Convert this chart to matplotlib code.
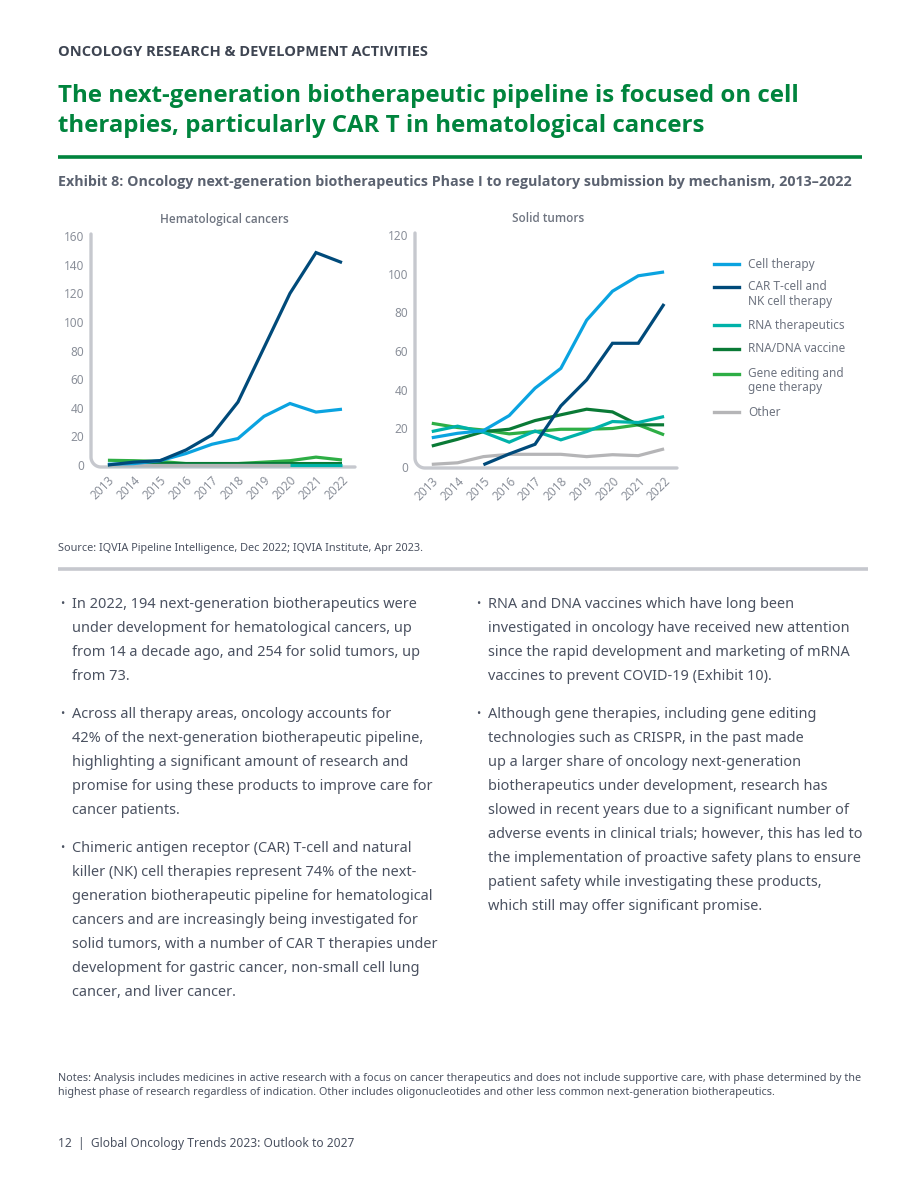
import numpy as np
import matplotlib.pyplot as plt
from matplotlib.lines import Line2D

W, H = 920, 1191
plt.rcParams["font.family"] = ["Noto Sans", "DejaVu Sans"]
BOLD = ["Open Sans", "DejaVu Sans"]

GREEN_T = "#00843d"; TXT = "#4b5261"; TXT_SEC = "#6e7480"; TICK = "#8b909a"
AXIS = "#c6c8ce"

# ── data ────────────────────────────────────────────────────────────────────
years = list(range(2013, 2023))
series = ["Cell therapy", "CAR T-cell and\nNK cell therapy", "RNA therapeutics",
          "RNA/DNA vaccine", "Gene editing and\ngene therapy", "Other"]
colors = ["#0aa3e0", "#004a7a", "#00b2a9", "#0a7a36", "#2eae45", "#b5b5b7"]

hem_cell   = [0.5, 1, 3, 8, 14.5, 18.5, 34, 43, 37, 39]
hem_cart   = [0, 2, 3, 10.5, 21, 44, 82, 120, 148.5, 141.5]
hem_rna    = [0, 0, 0, 0, 0, 0, 0, 0, 0, 0]
hem_vacc   = [0, 0, 1, 1, 1, 1, 1, 1, 1, 1]
hem_gene   = [3.3, 3, 2.5, 1, 1, 1, 2, 3, 5.5, 3.5]
hem_other  = [0, 0, 0, 0, 0, 0, 0, 0, np.nan, np.nan]

sol_cell   = [15, 17.3, 18.7, 26.5, 40.7, 51, 76, 91, 99, 101]
sol_cart   = [np.nan, np.nan, 1, 6.6, 11.6, 31.5, 45, 64, 64, 84.4]
sol_rna    = [18.2, 21, 17.9, 12.7, 18.5, 13.9, 18.2, 23.4, 22.9, 26]
sol_vacc   = [10.7, 14.2, 18.2, 19.4, 23.9, 26.9, 29.8, 28.4, 21.7, 21.7]
sol_gene   = [22.5, 20.3, 19, 17, 18.2, 19.4, 19.4, 19.8, 21.7, 16.5]
sol_other  = [1.2, 2, 5.2, 6.4, 6.4, 6.4, 5.2, 6.2, 5.7, 9.2]

hem = [hem_cell, hem_cart, hem_rna, hem_vacc, hem_gene, hem_other]
sol = [sol_cell, sol_cart, sol_rna, sol_vacc, sol_gene, sol_other]
draw_order = [4, 3, 2, 5, 0, 1]

fig = plt.figure(figsize=(W / 100, H / 100), dpi=100)
fig.patch.set_facecolor("white")
renderer = fig.canvas.get_renderer()

def fy(py):
    return 1 - py / H

def fx(px):
    return px / W

def txt(px, py, s, **kw):
    return fig.text(fx(px), fy(py), s, **kw)

def fit(t, width_px):
    # scale font so the line spans the same width as in the page
    w = t.get_window_extent(renderer).width
    t.set_fontsize(t.get_fontsize() * width_px / w)
    return t.get_fontsize()

def hline(x0, x1, py, color, lw):
    fig.add_artist(Line2D([fx(x0), fx(x1)], [fy(py), fy(py)], color=color,
                          lw=lw, solid_capstyle="butt"))

def make_axes(rect_px, data, ylim, yticks, title, title_x):
    x0, y0, x1, y1 = rect_px
    ax = fig.add_axes([fx(x0), fy(y1), fx(x1 - x0), (y1 - y0) / H])
    for i in draw_order:
        ax.plot(years, data[i], color=colors[i], lw=2.3, solid_capstyle="butt",
                solid_joinstyle="miter", clip_on=False)
    ax.set_xlim(2012.35, 2022.5)
    ax.set_ylim(*ylim)
    ax.set_yticks(yticks)
    ax.set_xticks(years)
    ax.set_xticklabels([str(y) for y in years], rotation=45, ha="right",
                       rotation_mode="anchor")
    ax.tick_params(length=0, colors=TICK, labelsize=8.5, pad=5)
    for sp in ax.spines.values():
        sp.set_visible(False)
    ax.patch.set_visible(False)
    # rounded L-shaped axis
    rx, ry = 10 / (x1 - x0), 10 / (y1 - y0)
    t = np.linspace(0, np.pi / 2, 20)
    xs = np.concatenate([[0], rx - rx * np.cos(t), [1]])
    ys = np.concatenate([[1], ry - ry * np.sin(t), [0]])
    ax.plot(xs, ys, color=AXIS, lw=2.4, transform=ax.transAxes, clip_on=False,
            solid_capstyle="round", zorder=0)
    txt(title_x, 219, title, ha="center", va="center", fontsize=8.5,
        color=TXT_SEC, fontweight="semibold", family=BOLD)
    return ax

make_axes((91, 234, 355, 467), hem, (-1.4, 161.5), range(0, 161, 20),
          "Hematological cancers", 224)
make_axes((415, 233, 677, 468), sol, (-0.7, 121.2), range(0, 121, 20),
          "Solid tumors", 548)

# legend
leg_y = [264, 294, 325, 349, 381, 412]
for i, name in enumerate(series):
    off = 0.006 if "\n" in name else 0
    fig.add_artist(Line2D([fx(714), fx(739)], [fy(leg_y[i]) + off] * 2,
                          color=colors[i], lw=2.4))
    txt(748, leg_y[i], name, ha="left", va="center", fontsize=8.5,
        color=TXT_SEC, linespacing=1.1)

# ── page text ──────────────────────────────────────────────────────────────
t = txt(58, 52, "ONCOLOGY RESEARCH & DEVELOPMENT ACTIVITIES", fontsize=9.5,
        fontweight="bold", color="#3e4552", va="center", family=BOLD)
fit(t, 372)
t1 = txt(58, 96, "The next-generation biotherapeutic pipeline is focused on cell",
         fontsize=17, fontweight="bold", color=GREEN_T, va="center", family=BOLD)
fs = fit(t1, 740)
txt(58, 126, "therapies, particularly CAR T in hematological cancers",
    fontsize=fs, fontweight="bold", color=GREEN_T, va="center", family=BOLD)
hline(58, 862, 157, GREEN_T, 2.6)
t = txt(58, 182, "Exhibit 8: Oncology next-generation biotherapeutics Phase I to "
        "regulatory submission by mechanism, 2013–2022", fontsize=8.8,
        fontweight="bold", color="#5b6270", va="center", family=BOLD)
fit(t, 795)
t = txt(58, 548, "Source: IQVIA Pipeline Intelligence, Dec 2022; IQVIA Institute, Apr 2023.",
        fontsize=7, color=TXT, va="center")
fit(t, 365)
hline(58, 868, 569, AXIS, 2.6)

left_paras = [
    ["In 2022, 194 next-generation biotherapeutics were",
     "under development for hematological cancers, up",
     "from 14 a decade ago, and 254 for solid tumors, up",
     "from 73."],
    ["Across all therapy areas, oncology accounts for",
     "42% of the next-generation biotherapeutic pipeline,",
     "highlighting a significant amount of research and",
     "promise for using these products to improve care for",
     "cancer patients."],
    ["Chimeric antigen receptor (CAR) T-cell and natural",
     "killer (NK) cell therapies represent 74% of the next-",
     "generation biotherapeutic pipeline for hematological",
     "cancers and are increasingly being investigated for",
     "solid tumors, with a number of CAR T therapies under",
     "development for gastric cancer, non-small cell lung",
     "cancer, and liver cancer."],
]
right_paras = [
    ["RNA and DNA vaccines which have long been",
     "investigated in oncology have received new attention",
     "since the rapid development and marketing of mRNA",
     "vaccines to prevent COVID-19 (Exhibit 10)."],
    ["Although gene therapies, including gene editing",
     "technologies such as CRISPR, in the past made",
     "up a larger share of oncology next-generation",
     "biotherapeutics under development, research has",
     "slowed in recent years due to a significant number of",
     "adverse events in clinical trials; however, this has led to",
     "the implementation of proactive safety plans to ensure",
     "patient safety while investigating these products,",
     "which still may offer significant promise."],
]

def bullets(paras, bx, tx, y0):
    y = y0
    for para in paras:
        txt(bx, y, "•", fontsize=8, color=TXT, va="center")
        for line in para:
            txt(tx, y, line, fontsize=10.45, color=TXT, va="center")
            y += 24
        y += 14

bullets(left_paras, 60, 72, 605)
bullets(right_paras, 476, 488, 605)

t = txt(58, 1078, "Notes: Analysis includes medicines in active research with a focus on "
        "cancer therapeutics and does not include supportive care, with phase determined by the",
        fontsize=7, color=TXT, va="center")
fs = fit(t, 802)
txt(58, 1093, "highest phase of research regardless of indication. Other includes "
    "oligonucleotides and other less common next-generation biotherapeutics.",
    fontsize=fs, color=TXT, va="center")
t = txt(58, 1143, "12  |  Global Oncology Trends 2023: Outlook to 2027", fontsize=8,
        color=TXT, va="center")
fit(t, 297)

fig.savefig("out.png", dpi=100, facecolor="white")
